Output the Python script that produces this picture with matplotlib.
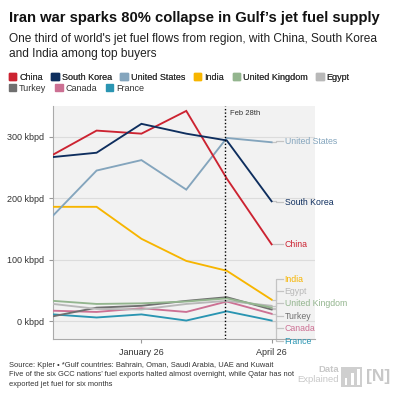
import matplotlib
matplotlib.use("Agg")
import matplotlib.pyplot as plt
import matplotlib.patches as mpatches
import pandas as pd

plt.rcParams['font.family'] = ['Liberation Sans', 'DejaVu Sans']

months = pd.to_datetime(["2025-11-01", "2025-12-01", "2026-01-01", "2026-02-01", "2026-03-01", "2026-04-01"])
countries = ["China", "South Korea", "United States", "India", "United Kingdom",
             "Egypt", "Turkey", "Canada", "France"]
china = [271, 310, 305, 342, 232, 125]
south_korea = [267, 274, 321, 305, 294, 195]
united_states = [172, 245, 262, 214, 298, 291]
india = [186, 186, 134, 98, 82, 35]
united_kingdom = [33, 28, 29, 32, 37, 22]
egypt = [28, 20, 19, 28, 33, 25]
turkey = [8, 22, 25, 33, 39, 19]
canada = [17, 15, 21, 15, 32, 12]
france = [11, 6, 11, 1, 16, 1]
label_values = [125, 193.5, 292.5, 68, 29, 49, 8, -11.5, -32.5]
colors = ["#cc2331", "#0e2e5e", "#84a5bd", "#f7b500", "#93b58e",
          "#b8b8b8", "#6f6f6f", "#cc7093", "#2a95b2"]
series = [china, south_korea, united_states, india, united_kingdom,
          egypt, turkey, canada, france]
yticks = [0, 100, 200, 300]
ytick_labels = ["0 kbpd", "100 kbpd", "200 kbpd", "300 kbpd"]
xticks = pd.to_datetime(["2026-01-01", "2026-04-01"])
xtick_labels = ["January 26", "April 26"]
event_date = pd.Timestamp("2026-02-28")

fig = plt.figure(figsize=(4, 4), dpi=100)
ax = fig.add_axes([0.133, 0.1525, 0.6545, 0.5825])
ax.set_facecolor("#f2f2f2")

order = [8, 7, 6, 5, 4, 3, 2, 0, 1]
for i in order:
    ax.plot(months, series[i], color=colors[i], lw=1.35, zorder=3, solid_joinstyle="miter")

end = months[-1]
for i in range(len(countries)):
    lv = series[i][-1]
    tv = label_values[i]
    xs = [end, end + pd.Timedelta(days=3), end + pd.Timedelta(days=3), end + pd.Timedelta(days=8)]
    ys = [lv, lv, tv, tv]
    ax.plot(xs, ys, color="#c4c4c4", lw=0.9, zorder=2, clip_on=False)
    ax.text(end + pd.Timedelta(days=9), tv, countries[i], color=colors[i], fontsize=6.3,
            va="center", ha="left", clip_on=False)

ax.axvline(event_date, color="black", lw=1.0, ls=(0, (1, 1.5)), zorder=4)
ax.text(event_date + pd.Timedelta(days=3), 337, "Feb 28th", fontsize=5.5, color="#333333",
        va="center", ha="left")

ax.set_xlim(pd.Timestamp("2025-11-01"), pd.Timestamp("2026-05-01"))
ax.set_ylim(-29, 350)
ax.set_yticks(yticks)
ax.set_yticklabels(ytick_labels)
ax.set_xticks(xticks)
ax.set_xticklabels(xtick_labels)
ax.tick_params(axis="both", labelsize=6.5, colors="#999999", labelcolor="#333333",
               length=3, width=0.8)
ax.grid(axis="y", color="#dcdcdc", lw=0.8, zorder=1)
ax.set_axisbelow(True)
for s in ["top", "right"]:
    ax.spines[s].set_visible(False)
for s in ["left", "bottom"]:
    ax.spines[s].set_color("#aaaaaa")
    ax.spines[s].set_linewidth(0.8)

fig.text(0.022, 0.955, "Iran war sparks 80% collapse in Gulf\u2019s jet fuel supply",
         fontsize=10.65, fontweight="bold", color="#111111", va="center", ha="left")
fig.text(0.022, 0.918, "One third of world's jet fuel flows from region, with China, South Korea\nand India among top buyers",
         fontsize=8.6, color="#222222", va="top", ha="left", linespacing=1.32)

handles = [mpatches.Patch(color=c) for c in colors]
leg_kw = dict(loc="upper left", frameon=False, fontsize=6.5, handlelength=0.85, handleheight=0.85,
              handletextpad=0.3, columnspacing=0.95, borderpad=0, borderaxespad=0)
leg1 = fig.legend(handles[:6], countries[:6], bbox_to_anchor=(0.022, 0.818), ncol=6, **leg_kw)
for t in leg1.get_texts():
    t.set_color("#333333")
fig.add_artist(leg1)
leg2 = fig.legend(handles[6:], countries[6:], bbox_to_anchor=(0.022, 0.79), ncol=3, **leg_kw)
for t in leg2.get_texts():
    t.set_color("#333333")

fig.text(0.022, 0.095,
         "Source: Kpler \u2022 *Gulf countries: Bahrain, Oman, Saudi Arabia, UAE and Kuwait\n"
         "Five of the six GCC nations\u2019 fuel exports halted almost overnight, while Qatar has not\n"
         "exported jet fuel for six months",
         fontsize=5.4, color="#333333", va="top", ha="left", linespacing=1.5)

# logo
fig.text(0.847, 0.075, "Data", fontsize=6.8, fontweight="bold", color="#c8c8c8", ha="right", va="center")
fig.text(0.847, 0.05, "Explained", fontsize=6.8, color="#c8c8c8", ha="right", va="center")
fig.patches.append(mpatches.Rectangle((0.852, 0.033), 0.053, 0.05, transform=fig.transFigure,
                                      fc="#cfcfcf", ec="none"))
for bx, bh in [(0.862, 0.018), (0.878, 0.03), (0.893, 0.04)]:
    fig.patches.append(mpatches.Rectangle((bx, 0.037), 0.006, bh, transform=fig.transFigure,
                                          fc="white", ec="none"))
fig.text(0.945, 0.058, "[N]", fontsize=12.5, fontweight="bold", color="#c8c8c8", ha="center", va="center")

fig.savefig("out.png", dpi=100, facecolor="white")
